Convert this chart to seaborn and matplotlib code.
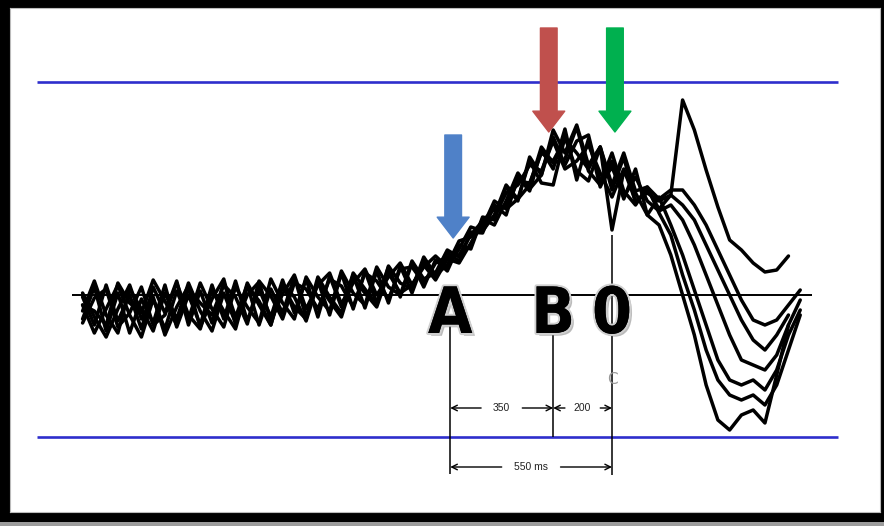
import numpy as np
import pandas as pd
import seaborn as sns
import matplotlib.pyplot as plt
import matplotlib.patheffects as pe
from matplotlib.patches import Rectangle

# sample times (ms, relative to movement onset "0")
t_ms = [-1800, -1760, -1720, -1680, -1640, -1600, -1560, -1520, -1480, -1440,
        -1400, -1360, -1320, -1280, -1240, -1200, -1160, -1120, -1080, -1040,
        -1000, -960, -920, -880, -840, -800, -760, -720, -680, -640,
        -600, -560, -520, -480, -440, -400, -360, -320, -280, -240,
        -200, -160, -120, -80, -40, 0, 40, 80, 120, 160,
        200, 240, 280, 320, 360, 400, 440, 480, 520, 560,
        600, 640]

nan = np.nan
# single-trial potentials (arbitrary units, up = negative potential)
trial_1 = [-0.2, -3.0, 1.0, -2.6, 0.0, -3.4, 0.8, -1.8, 1.4, -3.0,
           0.4, -2.8, 1.3, -2.2, 1.0, -3.0, 0.6, -1.8, 1.8, -2.2,
           1.4, -2.0, 2.2, -1.4, 2.4, -0.8, 2.8, -0.2, 3.2, 0.8,
           3.5, 2.4, 5.0, 4.6, 7.8, 7.5, 10.8, 9.4, 13.8, 12.0,
           16.5, 14.2, 17.0, 13.0, 14.8, 10.5, 13.8, 9.2, 10.6, 8.6,
           10.0, 19.5, 16.5, 12.5, 8.8, 5.5, 4.5, 3.2, 2.3, 2.5,
           3.9, nan]
trial_2 = [-2.4, 0.8, -3.6, 0.2, -3.8, -0.4, -2.8, 1.0, -3.2, 0.0,
           -3.0, 1.0, -2.4, 1.4, -2.6, 0.6, -2.2, 1.5, -1.8, 1.6,
           -2.2, 1.9, -1.2, 2.0, -1.3, 2.4, -0.8, 2.9, 0.2, 3.4,
           1.8, 4.2, 3.4, 6.3, 6.2, 9.0, 8.0, 11.8, 10.4, 14.5,
           12.6, 16.6, 11.5, 15.6, 10.8, 13.4, 9.6, 12.6, 8.0, 7.0,
           4.0, 0.0, -4.0, -9.0, -12.5, -13.5, -12.0, -11.5, -12.8, -8.0,
           -3.0, nan]
trial_3 = [-1.0, -3.8, -1.4, 1.0, -2.0, -4.2, -0.4, -3.4, 0.4, -2.4,
           1.2, -1.4, -3.2, 0.8, -1.2, -2.8, 1.6, -0.8, -2.4, 1.8,
           -0.2, -1.6, 2.4, 0.2, -1.0, 2.8, 0.8, 0.0, 3.4, 1.6,
           2.2, 4.5, 3.8, 5.0, 7.6, 7.0, 9.4, 12.2, 10.6, 12.0,
           15.8, 13.0, 15.4, 16.0, 11.2, 14.2, 10.4, 9.0, 10.8, 8.2,
           6.0, 2.0, -1.5, -5.5, -8.5, -10.0, -10.5, -10.0, -11.0, -9.0,
           -5.5, -2.0]
trial_4 = [-1.6, 1.4, -2.0, -3.8, 0.6, -1.4, -3.6, 0.2, -2.4, 1.2,
           -1.6, -3.6, 0.2, -2.8, 1.2, -1.0, -3.0, 0.9, -1.2, -2.4,
           1.8, -0.2, -1.8, 2.2, 0.6, -0.9, 2.9, 1.2, 0.6, 3.8,
           2.0, 3.0, 5.4, 5.8, 6.8, 9.4, 8.6, 9.6, 13.4, 11.2,
           11.0, 15.8, 12.4, 11.4, 14.8, 6.5, 12.4, 10.2, 8.0, 9.8,
           7.0, 4.0, 0.5, -3.0, -6.5, -8.5, -9.0, -8.5, -9.5, -7.5,
           -4.0, -1.5]
trial_5 = [0.2, -2.2, -4.2, -1.4, 1.0, -2.4, -0.2, -4.0, -1.2, 0.9,
           -3.2, -0.4, 1.6, -2.9, 0.0, 1.3, -2.6, 0.1, 2.0, -1.4,
           1.0, 2.2, -0.9, 1.2, 2.6, 0.0, 1.8, 3.2, 1.0, 2.8,
           3.9, 2.8, 4.6, 6.8, 6.4, 8.0, 11.0, 9.6, 11.0, 14.8,
           13.2, 13.6, 16.8, 12.4, 11.0, 12.8, 9.8, 11.8, 9.4, 8.4,
           9.0, 7.5, 5.0, 2.0, -1.0, -4.0, -6.5, -7.0, -7.5, -6.0,
           -3.0, -0.5]
trial_6 = [-2.8, -0.3, 0.6, -3.2, -1.8, 0.8, -3.0, -2.0, 1.2, -2.0,
           -3.4, 0.5, -1.6, -3.4, 0.9, -0.6, -3.0, 1.1, -0.2, -2.6,
           1.2, -0.6, -2.2, 1.6, 0.2, -1.2, 2.2, 0.2, 1.0, 3.0,
           1.5, 3.6, 3.2, 5.2, 7.2, 7.8, 10.2, 11.0, 13.0, 12.4,
           15.4, 12.6, 13.4, 15.0, 12.2, 9.8, 12.6, 9.4, 10.2, 9.4,
           10.0, 9.0, 7.5, 5.0, 2.5, 0.0, -2.5, -4.5, -5.5, -4.0,
           -2.0, nan]
trial_7 = [-1.0, -1.6, -3.0, 1.2, -0.8, -1.8, 1.5, -0.6, -3.0, 0.6,
           -0.8, -2.0, 1.0, -0.2, -2.9, 1.4, -0.1, -2.4, 1.2, 0.6,
           -1.4, 1.6, 0.9, -1.2, 2.2, 1.4, -0.4, 2.6, 2.8, 1.2,
           3.2, 3.8, 4.0, 6.0, 7.4, 8.6, 8.8, 11.4, 11.2, 14.2,
           13.4, 15.6, 14.2, 12.6, 14.8, 11.0, 14.2, 10.4, 10.8, 9.6,
           10.5, 10.5, 9.0, 7.0, 4.5, 2.0, -0.5, -2.5, -3.0, -2.5,
           -1.0, 0.5]

trials = [trial_1, trial_2, trial_3, trial_4, trial_5, trial_6, trial_7]

# event markers (ms)
event_labels = ['A', 'B', '0']
event_times = [-550, -200, 0]
interval_labels = ['350', '200', '550 ms']

rows = []
for k, tr in enumerate(trials):
    for t, v in zip(t_ms, tr):
        rows.append({'trial': k, 't': t, 'v': v})
df = pd.DataFrame(rows).dropna()

sns.set_style('white')
fig = plt.figure(figsize=(8.84, 5.26), dpi=100, facecolor='black')
# grey strip under the black frame
fig.add_artist(Rectangle((0, 0), 1, 4 / 526, transform=fig.transFigure,
                         facecolor='#9c9c9c', edgecolor='none', zorder=0))
ax = fig.add_axes([10 / 884, 14 / 526, 870 / 884, 504 / 526])
ax.set_facecolor('white')

# pixel-like mapping: 3.4 ms per px, 0 ms at px 612, baseline at py 295, 10 px per unit
ax.set_xlim((10 - 612) * 3.4, (880 - 612) * 3.4)
ax.set_ylim((295 - 512) / 10, (295 - 8) / 10)

# blue frame lines and baseline
ax.hlines([21.3, -14.2], -1955, 768, color='#2e2ecc', lw=1.9, zorder=1)
ax.hlines(0, -1836, 680, color='black', lw=1.4, zorder=1)

sns.lineplot(data=df, x='t', y='v', units='trial', estimator=None,
             color='black', lw=2.5, legend=False, ax=ax, zorder=3, sort=False)

tA, tB, t0 = event_times
ax.vlines(tA, -17.9, -2.8, color='black', lw=1.1, zorder=2)
ax.vlines(tB, -14.2, -3.0, color='black', lw=1.1, zorder=2)
ax.vlines(t0, -18.0, 6.0, color='black', lw=1.1, zorder=2)

label_fx = [pe.SimplePatchShadow(offset=(2, -2), shadow_rgbFace='#777777', alpha=0.5),
            pe.withStroke(linewidth=3, foreground='#cfcfcf'), pe.Normal()]
for lab, t in zip(event_labels, event_times):
    ax.text(t, -3.8, lab, ha='center', va='baseline', fontsize=46,
            fontweight='bold', fontstretch='condensed', color='black',
            family='DejaVu Sans', path_effects=label_fx, zorder=5)

ax.text(t0, -8.5, 'C', ha='center', va='center', fontsize=11, color='#999999', zorder=2)

def span(x1, x2, y, text, gap):
    mid = (x1 + x2) / 2
    kw = dict(arrowstyle='->', lw=1.0, color='black', shrinkA=0, shrinkB=0)
    ax.annotate('', xy=(x1, y), xytext=(mid - gap, y), arrowprops=kw)
    ax.annotate('', xy=(x2, y), xytext=(mid + gap, y), arrowprops=kw)
    ax.text(mid, y, text, ha='center', va='center', fontsize=7.5,
            family='Liberation Sans', color='#222222')

span(tA, tB, -11.3, interval_labels[0], 70)
span(tB, t0, -11.3, interval_labels[1], 60)
span(tA, t0, -17.2, interval_labels[2], 100)

# coloured pointer arrows: onset (blue), W / wish (red), movement (green)
def pointer(x, y_tip, y_tail, color):
    ax.annotate('', xy=(x, y_tip), xytext=(x, y_tail),
                arrowprops=dict(arrowstyle='simple,head_length=1.5,head_width=2.3,tail_width=1.2',
                                mutation_scale=10, color=color, shrinkA=0, shrinkB=0),
                zorder=6)

pointer(tA + 10, 5.7, 16.0, '#4f81c8')
pointer(tB - 15, 16.3, 26.7, '#c0504d')
pointer(t0 + 10, 16.3, 26.7, '#00b04f')

ax.set_xticks([])
ax.set_yticks([])
ax.set_xlabel('')
ax.set_ylabel('')
for s in ax.spines.values():
    s.set_color('#bbbbbb')
    s.set_linewidth(0.8)

fig.savefig('out.png', dpi=100, facecolor='black')
